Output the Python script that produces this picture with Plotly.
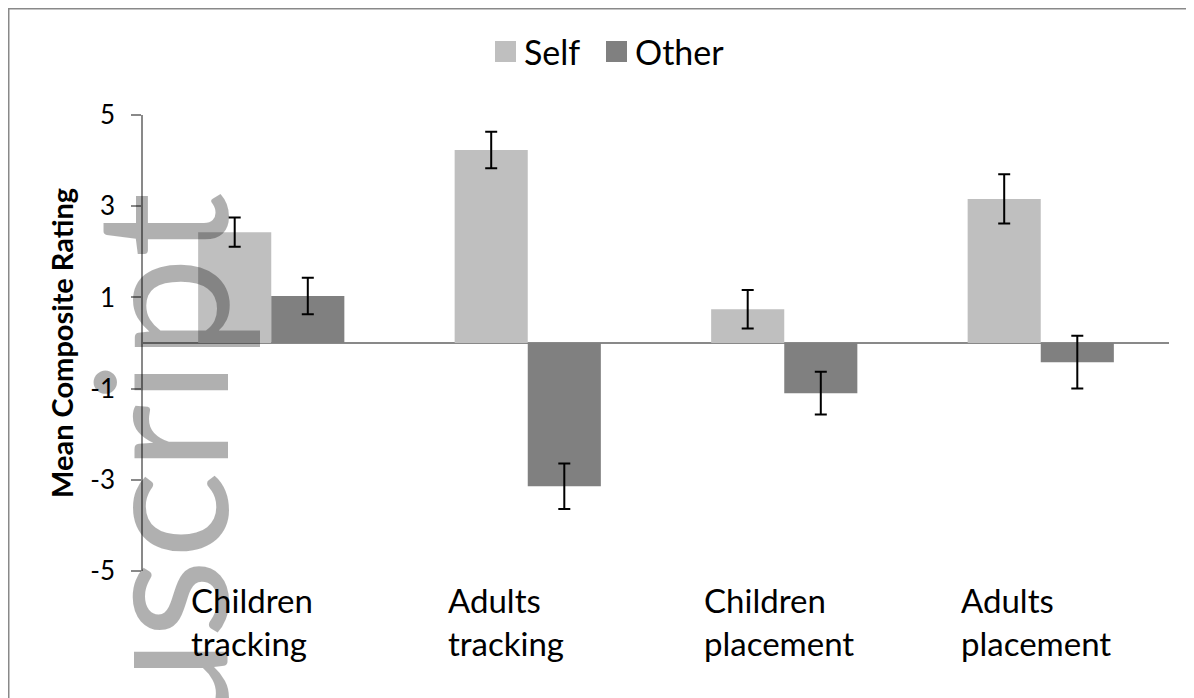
import plotly.graph_objects as go

categories = ["Children<br>tracking", "Adults<br>tracking", "Children<br>placement", "Adults<br>placement"]
series_names = ["Self", "Other"]
series_colors = ["#BFBFBF", "#808080"]
self_values = [2.43, 4.23, 0.74, 3.16]
self_errors = [0.32, 0.40, 0.42, 0.54]
other_values = [1.03, -3.14, -1.10, -0.42]
other_errors = [0.40, 0.50, 0.47, 0.58]
y_ticks = [-5, -3, -1, 1, 3, 5]
y_title = "Mean Composite Rating"
watermark = "Author Manuscript"

# the page body has an 8px margin; work in page pixels and convert
OFF = 8
W, H = 1194 - OFF, 698 - OFF
L, T = 143 - OFF, 115 - OFF
R = 1194 - 1169
B = 698 - 571
pw, ph = W - L - R, H - T - B

def px_x(p):  # page pixel -> paper x
    return (p - OFF - L) / pw

def px_y(p):  # page pixel -> paper y
    return (H - B - (p - OFF)) / ph

FONT = "Lato"
AX = "#898989"
idx = list(range(len(categories)))

fig = go.Figure()
fig.add_trace(go.Bar(
    x=idx, y=self_values, name=series_names[0], marker=dict(color=series_colors[0], line=dict(width=0)),
    error_y=dict(type="data", array=self_errors, color="black", thickness=2, width=6),
    showlegend=False,
))
fig.add_trace(go.Bar(
    x=idx, y=other_values, name=series_names[1], marker=dict(color=series_colors[1], line=dict(width=0)),
    error_y=dict(type="data", array=other_errors, color="black", thickness=2, width=6),
    showlegend=False,
))

annotations = []
shapes = []
for i, c in enumerate(categories):
    annotations.append(dict(
        x=i - 0.32, xref="x", y=px_y(578), yref="paper", text=c, showarrow=False,
        xanchor="left", yanchor="top", align="left",
        font=dict(family=FONT, size=33, color="black"),
    ))
annotations.append(dict(
    x=px_x(61), xref="paper", y=0.5, yref="paper", text="<b>" + y_title + "</b>",
    textangle=-90, showarrow=False, xanchor="center", yanchor="middle",
    font=dict(family=FONT, size=29, color="black"),
))
annotations.append(dict(
    x=px_x(156), xref="paper", y=px_y(191), yref="paper", text=watermark,
    textangle=-90, showarrow=False, xanchor="center", yanchor="top",
    font=dict(family=FONT, size=184, color="rgba(0,0,0,0.31)"),
))

# custom legend (square swatches + labels)
legend_sq = [495, 606]
for name, col, x0 in zip(series_names, series_colors, legend_sq):
    shapes.append(dict(type="rect", xref="paper", yref="paper",
                       x0=px_x(x0), x1=px_x(x0 + 21), y0=px_y(62), y1=px_y(41),
                       line=dict(width=0), fillcolor=col))
    annotations.append(dict(
        x=px_x(x0 + 27), xref="paper", y=px_y(51), yref="paper", text=name, showarrow=False,
        xanchor="left", yanchor="middle", font=dict(family=FONT, size=34, color="black"),
    ))

# chart frame
shapes.append(dict(type="rect", xref="paper", yref="paper",
                   x0=px_x(OFF + 0.75), x1=px_x(1230), y0=px_y(760), y1=px_y(OFF + 0.75),
                   line=dict(color=AX, width=1.5), fillcolor="rgba(0,0,0,0)", layer="below"))

fig.update_layout(
    width=W, height=H,
    margin=dict(l=L, r=R, t=T, b=B, autoexpand=False),
    paper_bgcolor="white", plot_bgcolor="white",
    barmode="group", bargap=0.43, bargroupgap=0,
    font=dict(family=FONT, color="black"),
    showlegend=False,
    xaxis=dict(range=[-0.5, len(categories) - 0.5], showticklabels=False, showgrid=False,
               zeroline=False, showline=False, ticks=""),
    yaxis=dict(range=[-5, 5], tickvals=y_ticks, ticktext=[str(v) for v in y_ticks],
               showgrid=False, zeroline=True, zerolinecolor=AX, zerolinewidth=2,
               showline=True, linecolor=AX, linewidth=1.5, ticks="outside", ticklen=10,
               tickcolor=AX, tickwidth=1.5, tickfont=dict(family=FONT, size=26, color="black"),
               ticklabelstandoff=11),
    annotations=annotations,
    shapes=shapes,
)

fig.write_html("out.html")
